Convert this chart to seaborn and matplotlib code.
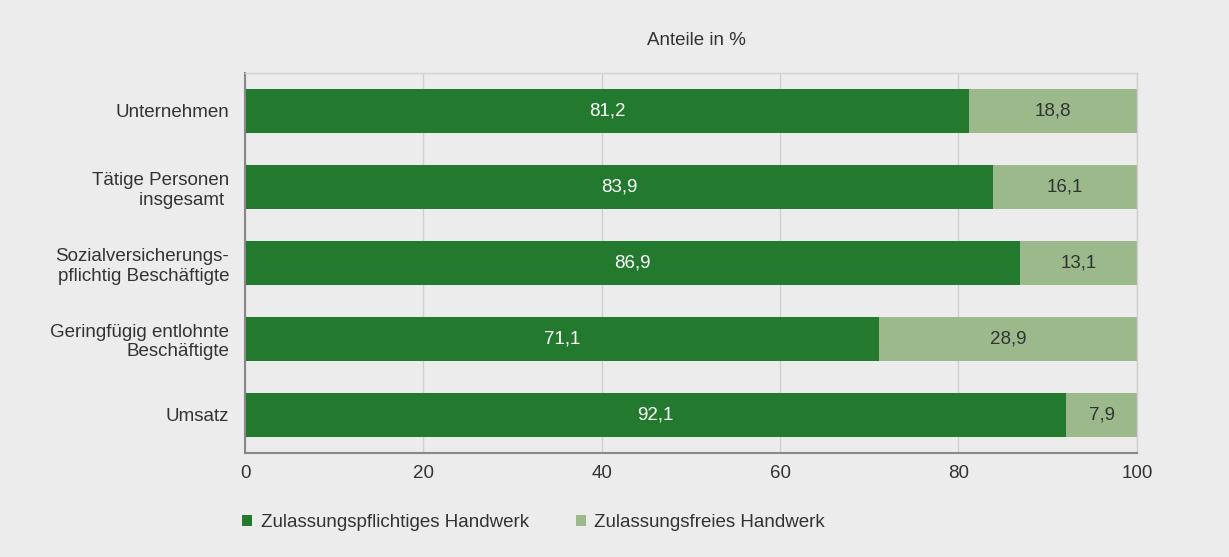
import pandas as pd
import seaborn as sns
import matplotlib.pyplot as plt
from matplotlib.patches import Patch

# data
categories = ["Unternehmen", "Tätige Personen\ninsgesamt ", "Sozialversicherungs-\npflichtig Beschäftigte",
              "Geringfügig entlohnte\nBeschäftigte", "Umsatz"]
pflichtig = [81.2, 83.9, 86.9, 71.1, 92.1]
frei = [18.8, 16.1, 13.1, 28.9, 7.9]
series_names = ["Zulassungspflichtiges Handwerk", "Zulassungsfreies Handwerk"]
x_ticks = [0, 20, 40, 60, 80, 100]

dark = "#237a2e"
light = "#9cb98b"
bg = "#ececec"
txt = "#333333"
fs = 13.5

df = pd.DataFrame({"Kategorie": categories, "pflichtig": pflichtig, "frei": frei})
df["gesamt"] = df["pflichtig"] + df["frei"]

sns.set_style("white")
plt.rcParams["font.family"] = ["Liberation Sans", "DejaVu Sans"]
plt.rcParams["font.size"] = fs

fig, ax = plt.subplots(figsize=(12.29, 5.57), dpi=100)
fig.patch.set_facecolor(bg)
ax.set_facecolor(bg)
fig.subplots_adjust(left=0.1994, right=0.925, top=0.869, bottom=0.187)

# stacked bars: total in light colour, the first part on top in dark green
sns.barplot(data=df, y="Kategorie", x="gesamt", color=light, width=0.58,
            saturation=1, orient="h", linewidth=0, ax=ax)
sns.barplot(data=df, y="Kategorie", x="pflichtig", color=dark, width=0.58,
            saturation=1, orient="h", linewidth=0, ax=ax)

fmt = lambda v: f"{v:.1f}".replace(".", ",")
ax.bar_label(ax.containers[1], labels=[fmt(v) for v in df["pflichtig"]],
             label_type="center", color="white", fontsize=fs)
for i, row in df.iterrows():
    ax.text(row["pflichtig"] + row["frei"] / 2, i, fmt(row["frei"]),
            ha="center", va="center", color=txt, fontsize=fs)

ax.set_xlim(0, 100)
ax.set_ylim(len(categories) - 0.5, -0.5)
ax.set_xticks(x_ticks)
ax.set_xticklabels([str(t) for t in x_ticks], color=txt)
ax.set_xlabel("")
ax.set_ylabel("")
ax.tick_params(axis="y", length=0, pad=11.5, labelcolor=txt)
ax.set_yticks([i - 0.5 for i in range(len(categories) + 1)], minor=True)
ax.tick_params(axis="y", which="minor", length=4, color="#888888", direction="out")
ax.tick_params(axis="x", length=5, color="#888888", pad=4)

ax.grid(axis="x", color="#d0d0d0", linewidth=1)
ax.set_axisbelow(True)
for s in ["left", "bottom"]:
    ax.spines[s].set_color("#888888")
    ax.spines[s].set_linewidth(1.5)
for s in ["top", "right"]:
    ax.spines[s].set_color("#d0d0d0")
    ax.spines[s].set_linewidth(1)

fig.text(0.567, 0.928, "Anteile in %", ha="center", va="center", color=txt, fontsize=fs)

handles = [Patch(facecolor=dark, edgecolor="none"), Patch(facecolor=light, edgecolor="none")]
fig.legend(handles, series_names, loc="center left", bbox_to_anchor=(0.183, 0.062), ncol=2,
           frameon=False, handlelength=0.55, handleheight=0.55, handletextpad=0.45,
           columnspacing=2.5, labelcolor=txt, fontsize=fs)

fig.savefig("out.png", dpi=100, facecolor=bg)
